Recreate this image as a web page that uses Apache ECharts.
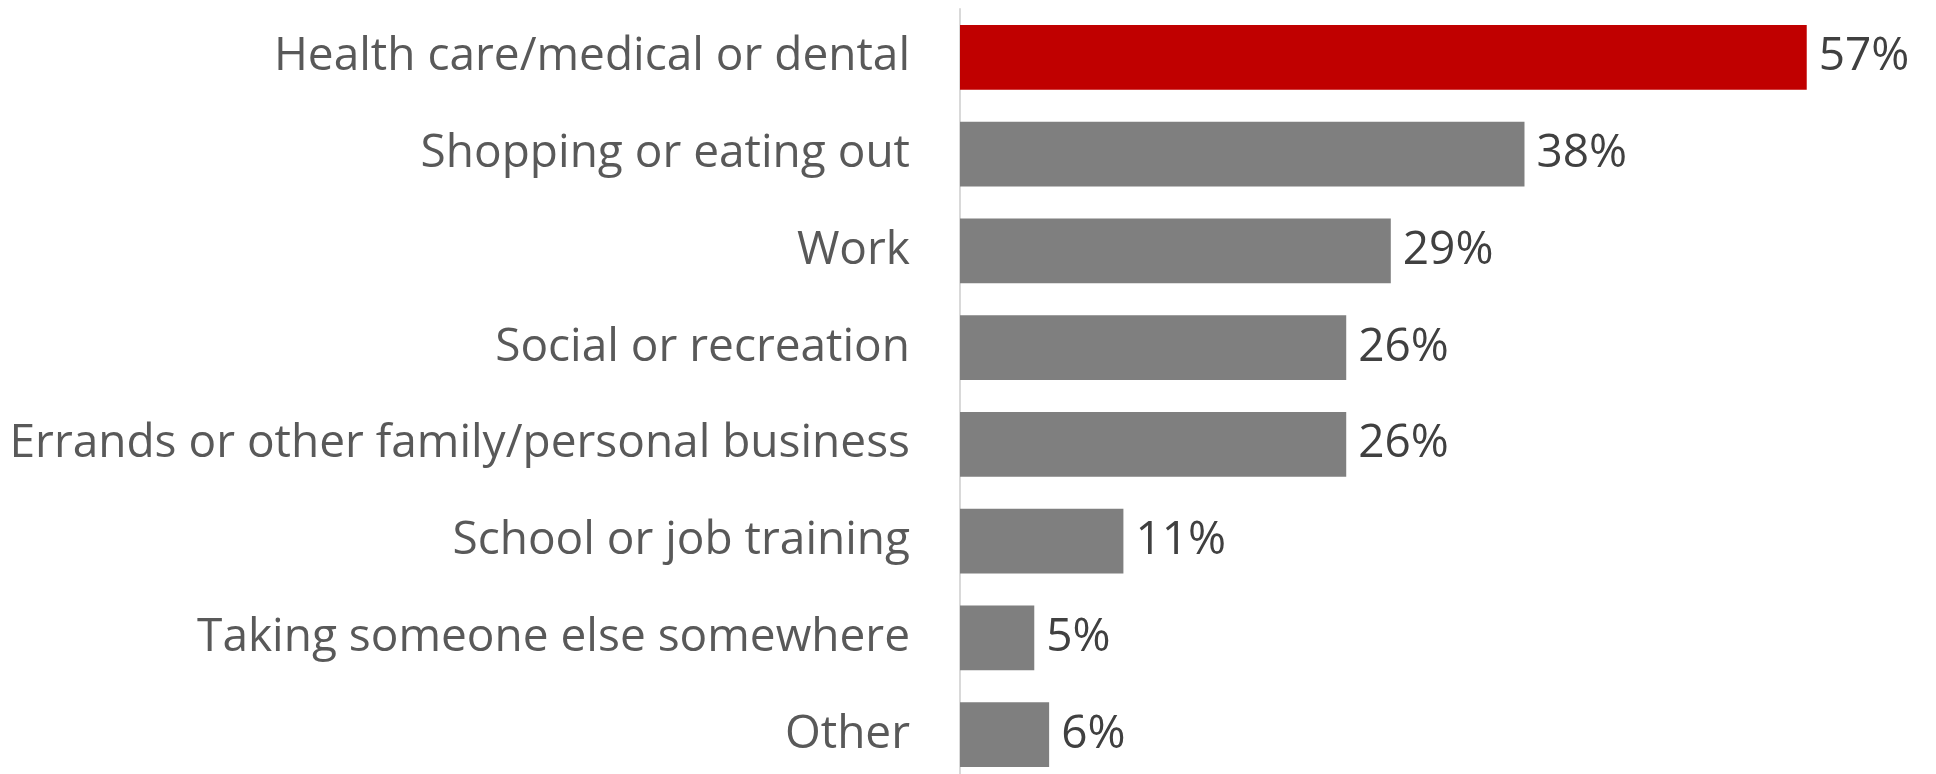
<!DOCTYPE html>
<html>
<head>
<meta charset="utf-8">
<script src="https://cdn.jsdelivr.net/npm/echarts@6/dist/echarts.min.js"></script>
<style>
  html, body { margin: 0; padding: 0; background: #ffffff; overflow: hidden; }
  /* the plot runs a little past the visible page, cutting off the last band */
  #chart { width: 1936px; height: 783px; }
</style>
</head>
<body>
<div id="chart"></div>
<script>
// Trip purposes, listed top to bottom
const categories = [
  'Health care/medical or dental',
  'Shopping or eating out',
  'Work',
  'Social or recreation',
  'Errands or other family/personal business',
  'School or job training',
  'Taking someone else somewhere',
  'Other'
];
// Share of respondents (%)
const shares = [57, 38, 29, 26, 26, 11, 5, 6];
// The first purpose is highlighted
const highlightIndex = 0;

const HIGHLIGHT = '#c00000';
const BASE = '#7f7f7f';
const FONT = '"Open Sans", "Noto Sans", sans-serif';

const chart = echarts.init(document.getElementById('chart'), null, { renderer: 'canvas' });

chart.setOption({
  backgroundColor: '#ffffff',
  animation: false,
  grid: { left: 960, width: 891.3, top: 9, bottom: 0, containLabel: false },
  xAxis: {
    type: 'value',
    min: 0,
    max: 60,
    show: false
  },
  yAxis: {
    type: 'category',
    data: categories,
    inverse: true,
    axisLine: { show: true, lineStyle: { color: '#d9d9d9', width: 2 } },
    axisTick: { show: false },
    splitLine: { show: false },
    axisLabel: {
      margin: 50,
      color: '#595959',
      fontFamily: FONT,
      fontSize: 46
    }
  },
  series: [{
    type: 'bar',
    data: shares.map((v, i) => ({
      value: v,
      itemStyle: { color: i === highlightIndex ? HIGHLIGHT : BASE }
    })),
    barCategoryGap: '33%',
    label: {
      show: true,
      position: 'right',
      distance: 12,
      color: '#404040',
      fontFamily: FONT,
      fontSize: 46,
      formatter: p => Math.round(p.value) + '%'
    }
  }]
});
</script>
</body>
</html>
